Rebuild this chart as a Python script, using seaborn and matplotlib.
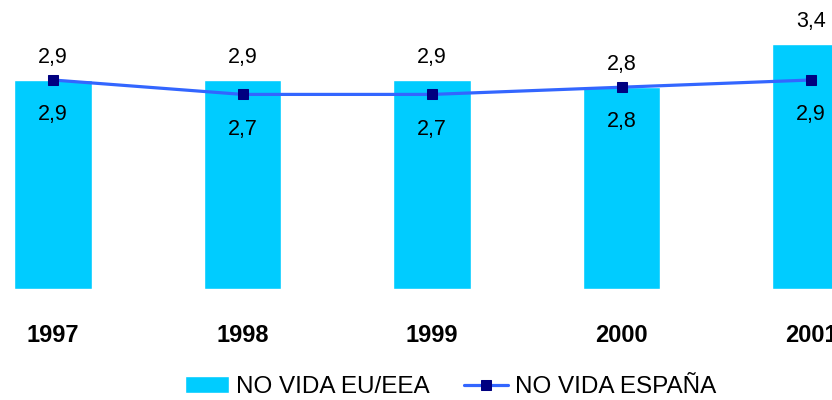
import numpy as np
import pandas as pd
import matplotlib
matplotlib.use("Agg")
import matplotlib.pyplot as plt
import seaborn as sns

# data
years = ["1997", "1998", "1999", "2000", "2001"]
eu_eea = [2.9, 2.9, 2.9, 2.8, 3.4]
espana = [2.9, 2.7, 2.7, 2.8, 2.9]

sns.set_style("white")
plt.rcParams["font.family"] = ["Liberation Sans", "DejaVu Sans"]
plt.rcParams["text.color"] = "black"
plt.rcParams["xtick.color"] = "black"
plt.rcParams["ytick.color"] = "black"

df = pd.DataFrame({"year": years, "eu": eu_eea, "es": espana})

fig = plt.figure(figsize=(8.32, 4), dpi=100)
ax = fig.add_axes([0, 0.2775, 1, 0.7225])

sns.barplot(data=df, x="year", y="eu", color="#00CCFF", saturation=1,
            width=0.41, label="NO VIDA EU/EEA", ax=ax)
sns.lineplot(data=df, x="year", y="es", color="#3366FF", linewidth=2.3,
             marker="s", markersize=7, markerfacecolor="#000080",
             markeredgecolor="#000080", label="NO VIDA ESPAÑA", ax=ax)

def fmt(v):
    return f"{v:.1f}".replace(".", ",")

for i, v in enumerate(eu_eea):
    ax.annotate(fmt(v), (i, v), xytext=(0, 16.5), textcoords="offset points",
                ha="center", va="center", fontsize=15.5, color="black")
for i, v in enumerate(espana):
    ax.annotate(fmt(v), (i, v), xytext=(0, -25), textcoords="offset points",
                ha="center", va="center", fontsize=15.5, color="black")

ax.set_xlim(-0.28, 4.11)
ax.set_ylim(0, 4.01)
ax.set_xlabel("")
ax.set_ylabel("")
ax.set_yticks([])
ax.tick_params(axis="x", length=0, pad=25, labelsize=17, labelcolor="black")
for lbl in ax.get_xticklabels():
    lbl.set_fontweight("bold")
sns.despine(ax=ax, left=True, bottom=True)

handles, labels = ax.get_legend_handles_labels()
order = [labels.index("NO VIDA EU/EEA"), labels.index("NO VIDA ESPAÑA")]
handles = [handles[k] for k in order]
labels = [labels[k] for k in order]
if ax.get_legend() is not None:
    ax.get_legend().remove()
fig.legend(handles, labels, loc="center", bbox_to_anchor=(0.542, 0.032),
           ncol=2, frameon=False, fontsize=17.5, handlelength=1.8,
           handletextpad=0.3, columnspacing=1.4, labelcolor="black")

fig.savefig("out.png", dpi=100)
